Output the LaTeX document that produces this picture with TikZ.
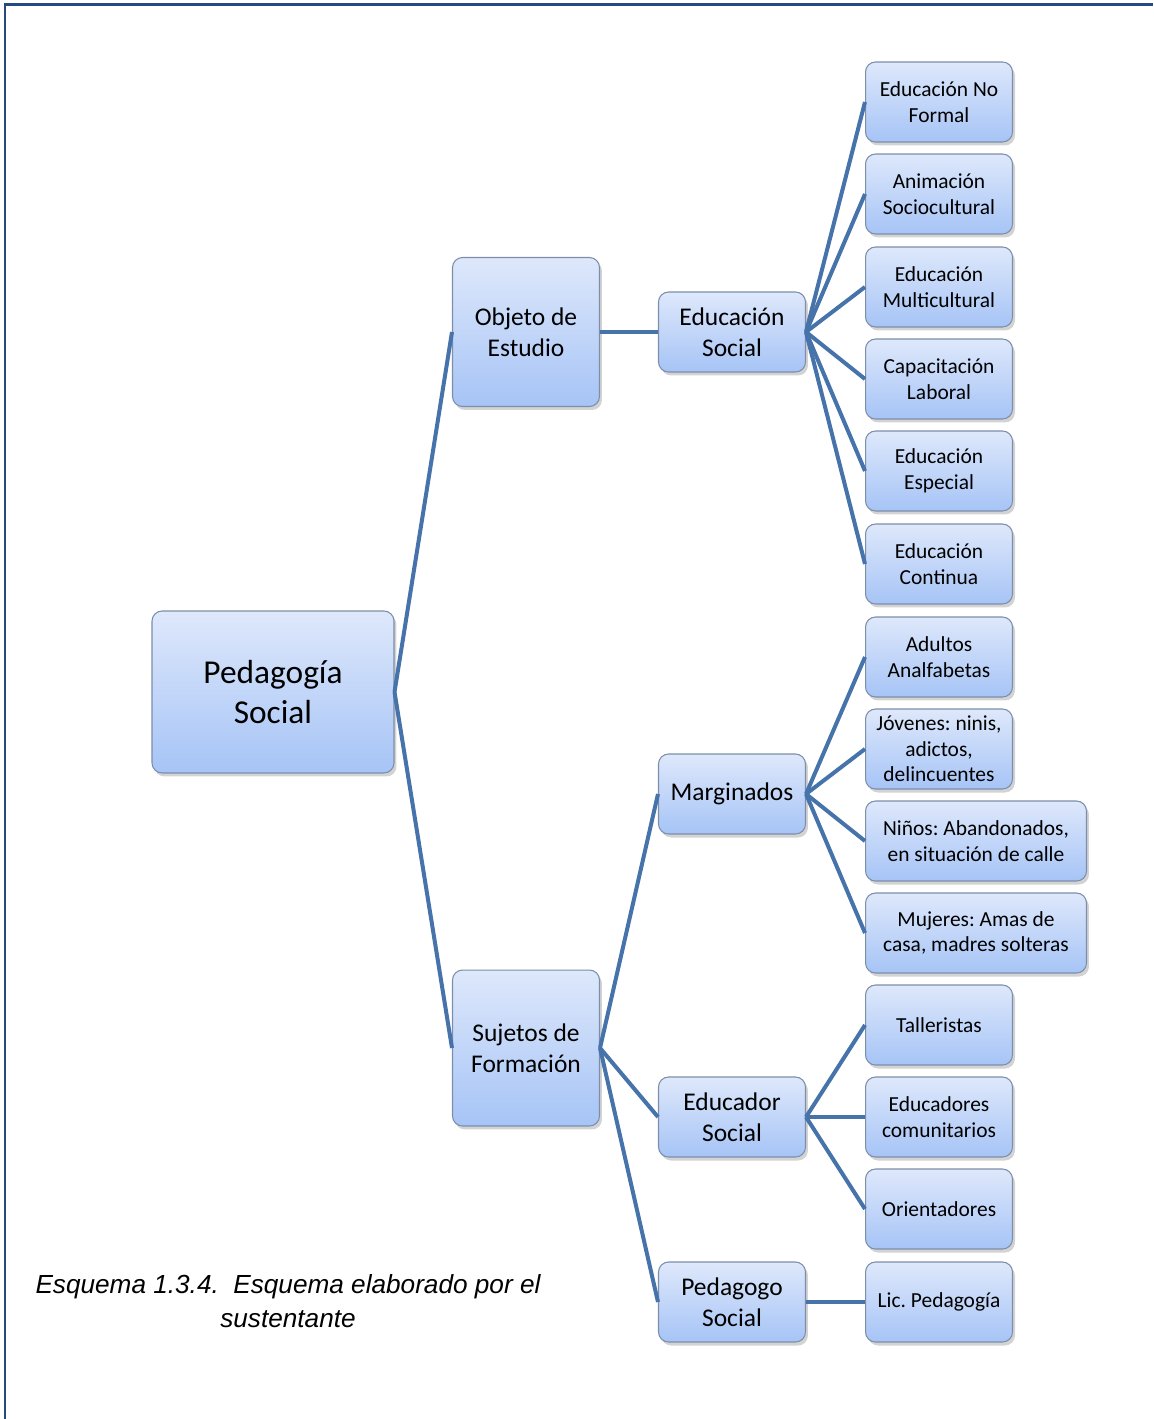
\documentclass[tikz,border=0pt]{standalone}
\usepackage{fontspec}
\setmainfont{Carlito}
\newfontfamily\capfont{Liberation Sans}
\usetikzlibrary{positioning,shadows}

\definecolor{boxtop}{RGB}{222,232,251}
\definecolor{boxbot}{RGB}{166,196,246}
\definecolor{boxline}{RGB}{125,142,170}
\definecolor{linkcol}{RGB}{70,115,170}
\definecolor{framecol}{RGB}{36,74,128}

\begin{document}
\frenchspacing
\begin{tikzpicture}[x=0.02cm,y=-0.02cm,
    box/.style={draw=boxline, line width=0.6pt, rounded corners=0.2cm,
        top color=boxtop, bottom color=boxbot, align=center, inner sep=0pt,
        drop shadow={shadow xshift=0.05cm, shadow yshift=-0.07cm, opacity=0.35}},
    leaf/.style={box, minimum width=2.94cm, minimum height=1.6cm, font=\fontsize{12.2}{14.6}\selectfont},
    wideleaf/.style={leaf, minimum width=4.42cm},
    mid/.style={box, minimum width=2.94cm, minimum height=1.6cm, font=\fontsize{14.5}{17.6}\selectfont},
    link/.style={linkcol, line width=0.08cm}]
            \useasboundingbox (0,0) rectangle (1153,1419);
            \draw[framecol, line width=0.06cm] (5,1419) -- (5,5) -- (1153,5);

            % tronco
            \node[box, minimum width=4.84cm, minimum height=3.24cm, font=\fontsize{19}{23}\selectfont] (ped) at (273,692) {Pedagog\'ia\\Social};
            \node[mid, minimum height=2.98cm] (obj) at (526,332) {Objeto de\\Estudio};
            \node[mid, minimum height=3.12cm] (suj) at (526,1048) {Sujetos de\\Formaci\'on};

            \node[mid] (edu) at (732,332) {Educaci\'on\\Social};
            \node[mid] (marg) at (732,794) {Marginados};
            \node[mid] (educ) at (732,1117) {Educador\\Social};
            \node[mid] (pedg) at (732,1302) {Pedagogo\\Social};

            % hojas
            \node[leaf] (nof) at (939,102) {Educaci\'on No\\Formal};
            \node[leaf] (anim) at (939,194) {Animaci\'on\\Sociocultural};
            \node[leaf] (multi) at (939,287) {Educaci\'on\\Multicultural};
            \node[leaf] (cap) at (939,379) {Capacitaci\'on\\Laboral};
            \node[leaf] (esp) at (939,471) {Educaci\'on\\Especial};
            \node[leaf] (cont) at (939,564) {Educaci\'on\\Continua};
            \node[leaf] (adul) at (939,657) {Adultos\\Analfabetas};
            \node[leaf] (jov) at (939,749) {J\'ovenes: ninis,\\adictos,\\delincuentes};
            \node[wideleaf] (nin) at (976,841) {Ni\~nos: Abandonados,\\en situaci\'on de calle};
            \node[wideleaf] (muj) at (976,933) {Mujeres: Amas de\\casa, madres solteras};
            \node[leaf] (tall) at (939,1025) {Talleristas};
            \node[leaf] (comu) at (939,1117) {Educadores\\comunitarios};
            \node[leaf] (ori) at (939,1209) {Orientadores};
            \node[leaf] (lic) at (939,1302) {Lic. Pedagog\'ia};

            \draw[link] (ped.east) -- (obj.west);
            \draw[link] (ped.east) -- (suj.west);
            \draw[link] (obj.east) -- (edu.west);
            \foreach \n in {nof,anim,multi,cap,esp,cont}
                \draw[link] (edu.east) -- (\n.west);
            \foreach \n in {marg,educ,pedg}
                \draw[link] (suj.east) -- (\n.west);
            \foreach \n in {adul,jov,nin,muj}
                \draw[link] (marg.east) -- (\n.west);
            \foreach \n in {tall,comu,ori}
                \draw[link] (educ.east) -- (\n.west);
            \draw[link] (pedg.east) -- (lic.west);

            \node[font=\capfont\itshape\fontsize{14.9}{19.7}\selectfont, align=center] (capt) at (288,1301) {Esquema 1.3.4.\ \ Esquema elaborado por el\\sustentante};
\end{tikzpicture}
\end{document}
